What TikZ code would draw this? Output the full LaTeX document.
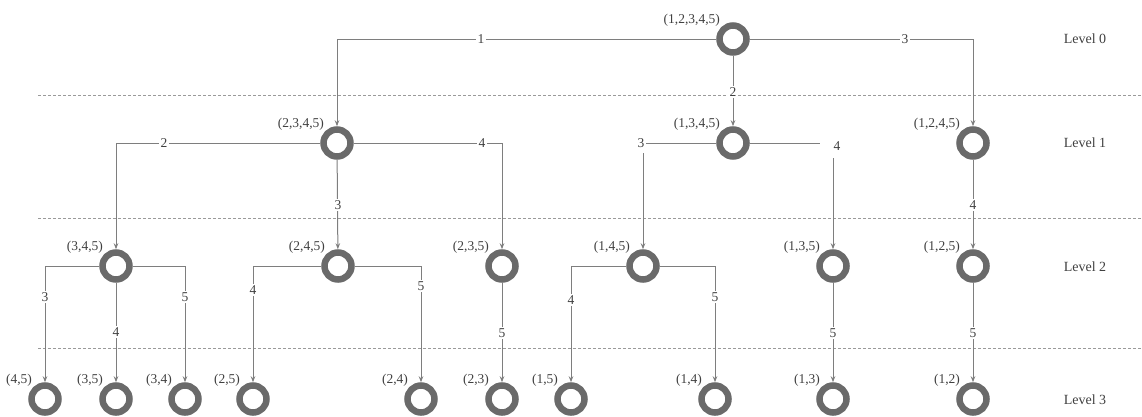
\documentclass[tikz,border=0pt]{standalone}
\usepackage{fontspec}
\setmainfont{Liberation Serif}
\usetikzlibrary{arrows.meta}
\definecolor{linegray}{HTML}{7E7E7E}
\definecolor{ringgray}{HTML}{6A6A6A}
\definecolor{textgray}{HTML}{404040}
\definecolor{dashgray}{HTML}{9A9A9A}
\begin{document}
\begin{tikzpicture}[x=1pt,y=-1pt,
  ring/.style={circle, draw=ringgray, fill=white, line width=6.5pt, minimum size=27pt, inner sep=0pt},
  tup/.style={anchor=south east, text=textgray, inner sep=1pt, font=\fontsize{13.5}{13.5}\selectfont},
  elab/.style={fill=white, text=textgray, inner sep=1.5pt, font=\fontsize{13.5}{13.5}\selectfont},
  levlab/.style={text=textgray, font=\fontsize{14}{14}\selectfont},
  conn/.style={draw=linegray, line width=1pt, -{Stealth[length=6pt,width=4.5pt]}},
  dashline/.style={draw=dashgray, line width=0.8pt, dash pattern=on 3pt off 2pt}
]
\useasboundingbox (0,0) rectangle (1142,416);
% level separators
\draw[dashline] (38,95) -- (1142,95);
\draw[dashline] (38,218) -- (1142,218);
\draw[dashline] (38,348) -- (1142,348);
% level 0
\node[ring] (n0) at (733,39) {};
% level 1
\node[ring] (n2345) at (337,143) {};
\node[ring] (n1345) at (733,143) {};
\node[ring] (n1245) at (973,143) {};
% level 2
\node[ring] (n345) at (116,266) {};
\node[ring] (n245) at (338,266) {};
\node[ring] (n235) at (502,266) {};
\node[ring] (n145) at (643,266) {};
\node[ring] (n135) at (833,266) {};
\node[ring] (n125) at (973,266) {};
% level 3
\node[ring] (n45) at (45,399) {};
\node[ring] (n35) at (116,399) {};
\node[ring] (n34) at (185,399) {};
\node[ring] (n25) at (253,399) {};
\node[ring] (n24) at (421,399) {};
\node[ring] (n23) at (502,399) {};
\node[ring] (n15) at (571,399) {};
\node[ring] (n14) at (715,399) {};
\node[ring] (n13) at (833,399) {};
\node[ring] (n12) at (973,399) {};
% tuple labels
\node[tup] (t0) at (n0.north west) {(1,2,3,4,5)};
\node[tup] (t2345) at (n2345.north west) {(2,3,4,5)};
\node[tup] (t1345) at (n1345.north west) {(1,3,4,5)};
\node[tup] (t1245) at (n1245.north west) {(1,2,4,5)};
\node[tup] (t345) at (n345.north west) {(3,4,5)};
\node[tup] (t245) at (n245.north west) {(2,4,5)};
\node[tup] (t235) at (n235.north west) {(2,3,5)};
\node[tup] (t145) at (n145.north west) {(1,4,5)};
\node[tup] (t135) at (n135.north west) {(1,3,5)};
\node[tup] (t125) at (n125.north west) {(1,2,5)};
\node[tup] (t45) at (n45.north west) {(4,5)};
\node[tup] (t35) at (n35.north west) {(3,5)};
\node[tup] (t34) at (n34.north west) {(3,4)};
\node[tup] (t25) at (n25.north west) {(2,5)};
\node[tup] (t24) at (n24.north west) {(2,4)};
\node[tup] (t23) at (n23.north west) {(2,3)};
\node[tup] (t15) at (n15.north west) {(1,5)};
\node[tup] (t14) at (n14.north west) {(1,4)};
\node[tup] (t13) at (n13.north west) {(1,3)};
\node[tup] (t12) at (n12.north west) {(1,2)};
% connectors level 0 -> 1
\draw[conn] (n0) -| (n2345);
\draw[conn] (n0) -- (n1345);
\draw[conn] (n0) -| (n1245);
% level 1 -> 2
\draw[conn] (n2345) -| (n345);
\draw[conn] (n2345) -- (n245);
\draw[conn] (n2345) -| (n235);
\draw[conn] (n1345) -| (n145);
\draw[conn] (n1345) -| (n135);
\draw[conn] (n1245) -- (n125);
% level 2 -> 3
\draw[conn] (n345) -| (n45);
\draw[conn] (n345) -- (n35);
\draw[conn] (n345) -| (n34);
\draw[conn] (n245) -| (n25);
\draw[conn] (n245) -| (n24);
\draw[conn] (n235) -- (n23);
\draw[conn] (n145) -| (n15);
\draw[conn] (n145) -| (n14);
\draw[conn] (n135) -- (n13);
\draw[conn] (n125) -- (n12);
% edge labels
\node[elab] (e01) at (481,39) {1};
\node[elab] (e03) at (905,39) {3};
\node[elab] (e02) at (733,92) {2};
\node[elab] (e12a) at (164,143) {2};
\node[elab] (e14a) at (482,143) {4};
\node[elab] (e13a) at (338,205) {3};
\node[elab, minimum height=20pt] (e13b) at (641,143) {3};
\node[elab, minimum width=34pt, minimum height=24pt] (e14b) at (837,146) {4};
\node[elab] (e14c) at (973,205) {4};
\node[elab] (e23a) at (45,297) {3};
\node[elab] (e24a) at (116,332) {4};
\node[elab] (e25a) at (185,297) {5};
\node[elab] (e24b) at (253,290) {4};
\node[elab] (e25b) at (421,286) {5};
\node[elab] (e25c) at (502,333) {5};
\node[elab] (e24c) at (571,300) {4};
\node[elab] (e25d) at (715,297) {5};
\node[elab] (e25e) at (833,333) {5};
\node[elab] (e25f) at (973,333) {5};
% level labels
\node[levlab] (lv0) at (1085,39) {Level 0};
\node[levlab] (lv1) at (1085,143) {Level 1};
\node[levlab] (lv2) at (1085,267) {Level 2};
\node[levlab] (lv3) at (1085,400) {Level 3};
\end{tikzpicture}
\end{document}
